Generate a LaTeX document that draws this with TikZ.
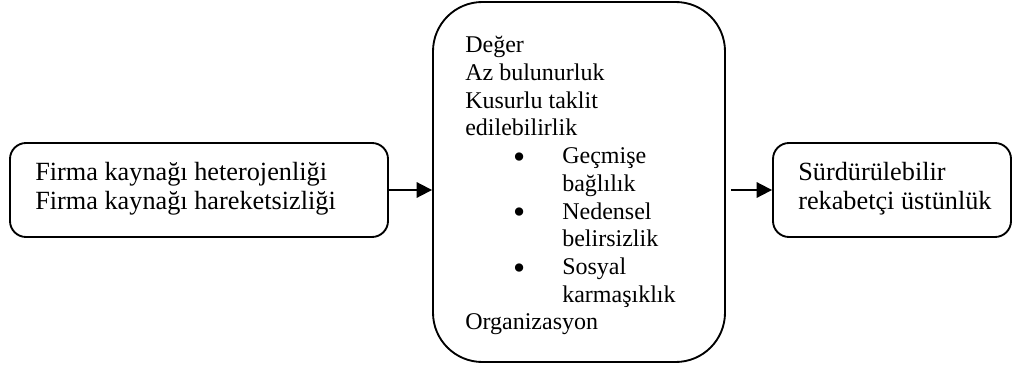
\documentclass[tikz,border=0pt]{standalone}
\usepackage{fontspec}
\setmainfont{Liberation Serif}
\usetikzlibrary{arrows.meta}
% bulleted entry split over two lines, with a hanging indent
\newcommand\bulletitem[2]{\hspace*{40.5pt}\makebox[0pt][c]{\smash{\raisebox{-3.5pt}{\fontsize{26}{20.8}\selectfont •}}}\hspace*{32.25pt}#1\\\hspace*{72.75pt}#2}
\begin{document}
\begin{tikzpicture}[x=0.75pt,y=-0.75pt,
  box/.style={draw,line width=1.4pt,rounded corners=12pt,inner sep=0pt},
  label/.style={anchor=north west,inner sep=0pt,align=left},
  big/.style={font=\fontsize{19.7}{21.8}\selectfont},
  small/.style={font=\fontsize{18}{20.8}\selectfont},
  link/.style={line width=1.4pt,-{Triangle[length=11.5pt,width=11.5pt]}}]
\useasboundingbox (0,0) rectangle (1013,364);
% frames
\node[box,minimum width=283.5pt,minimum height=70.5pt] (src) at (199,190) {};
\node[box,minimum width=219pt,minimum height=270pt,rounded corners=37pt] (vrio) at (579,182) {};
\node[box,minimum width=178.5pt,minimum height=70.5pt] (sca) at (892,190) {};
% texts
\node[label,big] (srcT) at (35,162) {Firma kaynağı heterojenliği\\Firma kaynağı hareketsizliği};
\node[label,small] (vrioT) at (465,36) {Değer\\Az bulunurluk\\Kusurlu taklit\\edilebilirlik\\
  \bulletitem{Geçmişe}{bağlılık}\\
  \bulletitem{Nedensel}{belirsizlik}\\
  \bulletitem{Sosyal}{karmaşıklık}\\
  Organizasyon};
\node[label,big] (scaT) at (798,162) {Sürdürülebilir\\rekabetçi üstünlük};
% connectors
\draw[link] (src.east) -- (src.east -| vrio.west);
\path ([xshift=3.75pt]vrio.east) coordinate (vrOut);
\draw[link] (vrOut |- sca.west) -- (sca.west);
\end{tikzpicture}
\end{document}
